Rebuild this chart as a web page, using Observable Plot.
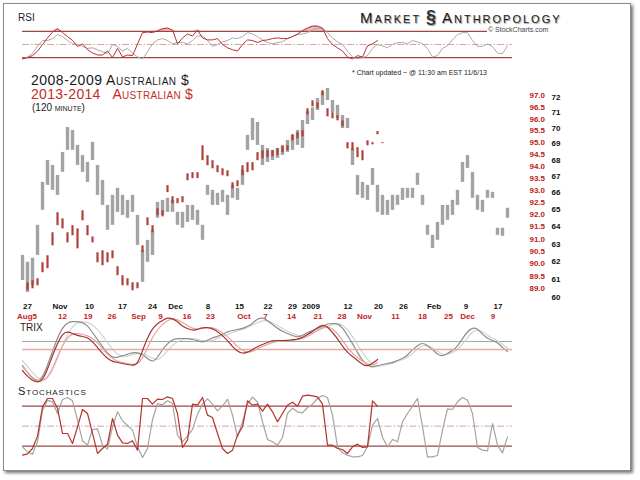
<!DOCTYPE html>
<html><head><meta charset="utf-8">
<script src="https://cdn.jsdelivr.net/npm/d3@7"></script>
<script src="https://cdn.jsdelivr.net/npm/@observablehq/plot@0.6"></script>
<style>
html,body{margin:0;padding:0;background:#fff;}
#wrap{position:relative;width:640px;height:480px;overflow:hidden;background:#fff;font-family:"Liberation Sans",Arial,sans-serif;}
#frame{position:absolute;left:3px;top:3px;width:626px;height:466px;border:1px solid #8a8a8a;box-shadow:2px 2px 3px rgba(0,0,0,0.55);background:#fff;}
.lbl{position:absolute;line-height:1;white-space:pre;}
.layer{position:absolute;left:0;}
</style></head>
<body><div id="wrap"><div id="frame"></div></div>
<script>
// ---------- data ----------
// bar index i (120-minute bars, sampled); 2008-2009 AUD (gray, right black axis)
const grayLow = [60.95,60.29,60.67,62.35,64.96,66.45,66.15,65.85,67.24,68.60,
68.60,67.66,67.24,66.63,67.97,65.85,65.25,63.79,64.08,64.84,
64.66,64.49,64.84,62.92,60.84,61.96,62.35,64.49,64.66,64.84,
64.84,64.08,63.91,64.25,64.37,64.08,63.21,65.85,65.25,65.25,
65.43,64.66,65.67,65.55,66.45,68.60,69.22,68.91,67.66,67.85,
67.97,68.10,68.28,68.47,68.60,68.91,68.72,70.23,70.49,71.13,
71.46,71.78,71.00,70.62,69.97,69.97,67.66,65.85,65.67,65.55,
66.45,64.84,64.66,64.66,64.96,65.25,65.55,65.67,65.67,66.45,
65.25,63.50,62.75,63.21,64.08,64.37,64.66,65.25,66.63,67.48,
65.67,64.96,64.84,65.67,65.67,63.50,63.44,64.49];
const grayHigh = [62.35,61.96,62.19,64.08,66.63,67.97,67.66,67.05,68.47,70.04,
69.85,68.91,68.28,67.85,69.10,67.66,66.75,65.25,65.85,66.27,
65.85,65.55,65.85,64.66,62.64,63.21,63.79,65.43,65.55,65.67,
65.55,64.84,64.84,65.25,65.25,64.96,64.08,66.45,66.15,65.97,
66.15,65.85,66.45,66.27,67.36,69.54,70.62,70.36,68.91,68.72,
68.60,68.72,68.91,69.22,69.54,69.85,70.49,71.04,71.30,71.91,
72.31,72.57,71.78,71.46,70.81,70.62,68.72,67.05,66.63,66.45,
67.48,66.45,65.85,65.55,65.85,65.85,66.27,66.27,66.27,67.18,
65.85,64.08,63.50,64.25,65.25,65.25,65.55,66.15,67.85,68.28,
67.24,65.85,65.55,66.15,66.03,63.91,63.91,65.08];
// 2013-2014 AUD (red, right red axis)
const redLow = [null,88.92,89.00,89.12,89.64,89.80,90.72,91.54,91.41,90.84,
91.13,90.60,91.74,91.13,90.84,90.04,89.92,90.04,90.20,89.52,
89.12,89.12,88.92,89.00,90.44,91.54,91.25,91.95,91.90,92.90,
92.44,92.44,92.48,93.39,93.48,93.48,94.23,94.02,93.89,93.73,
93.60,93.56,93.06,93.14,93.60,93.73,93.81,94.23,94.31,94.36,
94.40,94.44,94.57,94.65,95.07,95.16,95.24,96.18,96.52,96.44,
97.00,96.09,96.01,95.92,95.67,94.73,94.65,94.36,94.23,94.86,
94.90,95.33,94.95];
const redHigh = [null,89.24,89.32,89.40,90.04,90.32,91.25,92.07,91.82,91.25,
91.54,91.41,92.15,91.54,91.08,90.44,90.52,90.44,90.52,89.88,
89.52,89.40,89.24,89.24,90.72,91.86,91.54,92.23,92.15,93.19,
92.73,92.65,92.73,93.68,93.73,93.73,94.86,94.44,94.23,94.02,
93.89,93.81,93.31,93.39,94.02,94.15,94.15,94.57,94.65,94.65,
94.65,94.73,94.82,94.86,95.33,95.41,95.50,96.44,96.78,96.69,
97.22,96.44,96.27,96.14,95.92,94.99,94.99,94.78,94.65,95.07,
94.99,95.46,94.99];
const grayTicks = [60,61,62,63,64,65,66,67,68,69,70,71,72];
const redTicks = [89.0,89.5,90.0,90.5,91.0,91.5,92.0,92.5,93.0,93.5,94.0,94.5,95.0,95.5,96.0,96.5,97.0];

// RSI
const rsiGray = [28,31,36,48,56,56,59,65,62,56,51,50,47,44,45,42,39,36,50,47,
40,44,37,31,28,39,51,57,59,56,51,53,53,51,56,63,63,56,47,50,
54,56,60,59,62,68,66,62,57,53,51,53,54,59,62,65,66,68,72,75,
74,68,60,54,50,40,31,28,30,33,44,50,48,45,50,53,53,51,56,54,
51,44,31,33,44,48,57,65,68,68,56,47,47,51,47,37,36,48];
const rsiRed = [28,30,33,40,50,60,69,74,68,62,56,47,51,42,37,34,34,40,30,44,
31,34,33,51,68,69,68,71,74,75,72,51,60,66,63,72,60,57,57,59,
50,45,42,40,50,57,56,53,56,57,59,60,59,59,62,66,71,75,78,78,
75,59,50,45,40,31,28,33,31,48,51,56];
const rsiLevels = [30, 70];
const rsiMid = [50];

// TRIX (x100, each series around its own zero line)
const trixGray = [-24,-31,-37,-41,-36,-24,-10,4,14,19,20,20,19,16,9,2,-5,-12,-16,-16,
-14,-13,-11,-11,-13,-17,-21,-16,-8,-2,2,3,3,3,2,1,-1,1,4,5,
7,10,11,12,13,15,18,23,24,21,17,13,10,8,6,4,6,9,11,13,
15,18,18,18,14,6,-2,-11,-19,-24,-26,-24,-23,-22,-21,-19,-17,-14,-8,-4,
-1,-4,-8,-13,-15,-12,-9,-5,3,10,14,13,7,3,1,-1,-6,-10];
const trixGraySignal = [-19,-25,-31,-36,-39,-37,-29,-17,-4,7,15,19,20,19,17,12,6,-1,-8,-13,
-15,-15,-13,-12,-12,-14,-17,-19,-15,-9,-4,0,2,3,3,2,1,0,1,3,
5,7,9,11,12,14,16,19,21,21,19,16,13,10,8,6,5,7,9,11,
13,15,17,18,17,12,5,-3,-11,-18,-23,-25,-24,-23,-22,-20,-18,-16,-12,-7,
-4,-4,-6,-10,-13,-13,-11,-8,-3,4,10,12,10,6,3,1,-3,-7];
const trixRed = [-21,-27,-31,-33,-31,-20,-6,6,16,18,16,14,13,12,8,2,-4,-9,-12,-13,
-14,-15,-16,-15,-1,12,21,26,29,32,31,28,23,21,19,20,22,22,21,18,
14,9,3,-2,-4,-3,0,3,5,7,9,9,9,9,10,10,12,15,18,22,
25,23,17,11,3,-3,-7,-11,-15,-17,-14,-10];
const trixRedSignal = [-17,-23,-28,-31,-32,-28,-19,-7,4,12,16,16,15,14,11,7,1,-5,-9,-12,
-13,-14,-15,-15,-9,2,12,20,25,29,31,30,27,24,21,20,21,22,22,20,
17,13,8,3,-1,-3,-2,1,3,5,7,8,9,9,9,10,11,13,16,19,
22,23,21,16,9,2,-4,-8,-12,-15,-16,-13];

// Stochastics
const stochGray = [19,11.5,8,26.5,74,89,86,69,90,93,88,59,28,21.5,45,46,21.5,15.5,49,71.5,
58,51,44,19,3,16.5,60,84,82,88,84,36.5,26.5,35,45,68,83,91,83,73,
80,90.5,66.5,34,56.5,83,93.5,86.5,56.5,30,26.5,21.5,33,69,77,71.5,70,78,83,91.5,
96,93,66.5,19,10,6.5,4,4,6,19,51.5,61.5,33,19,30,26.5,56.5,69,80,91.5,
49,4,4,6,44,76,75,86.5,93,89,69,18,14,13,54,21.5,10,34];
const stochRed = [6.5,8.5,16.5,35,79,91.5,91.5,76.5,39,39,24,49,75,69,39,9,16.5,23,61.5,36.5,
25,24,28,14,91.5,91.5,83,90.5,90,94,91.5,69,18,29,83,81.5,93,66.5,63,39,
16.5,9,14,36.5,49,88,81.5,83,72.5,83,71.5,56.5,69,81.5,86,80,95,96.5,95.5,94,
83,21.5,21.5,16.5,15,9,19,23,18,19,88,80];
const stochLevels = [20, 80];
const stochMid = [50];

// date tick labels (bar index positions)
const blackTickPos = [1,7.5,13.4,20,26,30.6,37.1,43.4,49.1,54,57.7,65.1,71.2,76.2,82.3,88.7,95.1];
const blackTickLabels = ["27","Nov","10","17","24","Dec","8","15","22","29","2009","12","20","26","Feb","9","17"];
const redTickPos = [0.9,8,13.1,17.9,23.2,27.6,32.9,37.6,44.3,48.6,53.8,59.1,63.9,68.4,74.6,80,85.2,89,94.1];
const redTickLabels = ["Aug5","12","19","26","Sep","9","16","23","Oct","7","14","21","28","Nov","11","18","25","Dec","9"];

// ---------- build ----------
const wrap = document.getElementById("wrap");
const RED = "#b8322c", GUIDE = "#9c4744", GUIDE_MID = "#d6a3a0";
const X = {domain: [0, 98], axis: null};
const base = {width: 640, marginLeft: 22, marginRight: 128, marginTop: 0, marginBottom: 0,
  style: {background: "transparent", overflow: "visible", fontFamily: "Liberation Sans, Arial, sans-serif"}};

function place(svg, top) {
  svg.classList.add("layer");
  svg.style.top = top + "px";
  wrap.appendChild(svg);
}
function addLabel(text, left, top, css) {
  const d = document.createElement("div");
  d.className = "lbl";
  d.textContent = text;
  d.style.left = left + "px";
  d.style.top = top + "px";
  Object.assign(d.style, css || {});
  wrap.appendChild(d);
  return d;
}

const grayBars = grayLow.map((lo, i) => ({i, lo, hi: grayHigh[i]}));
const redBars = redLow.map((lo, i) => ({i, lo, hi: redHigh[i]})).filter(d => d.lo != null);
const series = (arr) => arr.map((v, i) => ({i, v}));

// RSI panel
place(Plot.plot({...base, height: 42.7, x: X, y: {domain: [20, 85], axis: null},
  marks: [
    Plot.areaY(series(rsiRed), {x: "i", y1: 70, y2: d => Math.max(d.v, 70), fill: "#ebb9b5"}),
    Plot.ruleY(rsiLevels, {stroke: GUIDE, strokeWidth: 1.2}),
    Plot.ruleY(rsiMid, {stroke: GUIDE_MID, strokeWidth: 1, strokeDasharray: "7,2,1.5,2"}),
    Plot.lineY(series(rsiGray), {x: "i", y: "v", stroke: "#a9a9a9", strokeWidth: 1}),
    Plot.lineY(series(rsiRed), {x: "i", y: "v", stroke: RED, strokeWidth: 1})
  ]}), 21.1);

// price panel: gray 2008-2009 (log scale)
place(Plot.plot({...base, height: 217.4, x: X, y: {type: "log", domain: [59.5, 72.5], axis: null},
  marks: [
    Plot.ruleX(grayBars, {x: "i", y1: "lo", y2: "hi", stroke: "#a3a3a3", strokeWidth: 3.4}),
    Plot.text(grayTicks, {y: d => d, text: d => String(d), frameAnchor: "right", dx: 39, textAnchor: "start",
      fontSize: 8, fontWeight: "bold", fill: "#111"})
  ]}), 89.1);

// price panel: red 2013-2014 (log scale)
place(Plot.plot({...base, height: 212.4, x: X, y: {type: "log", domain: [88.6, 97.4], axis: null},
  marks: [
    Plot.ruleX(redBars, {x: "i", y1: "lo", y2: "hi", stroke: "#b0403a", strokeWidth: 2.2}),
    Plot.text(redTicks, {y: d => d, text: d3.format(".1f"), frameAnchor: "right", dx: 17, textAnchor: "start",
      fontSize: 8, fontWeight: "bold", fill: "#c0201c"})
  ]}), 85.8);

// date labels
const blackT = blackTickPos.map((p, k) => ({p, t: blackTickLabels[k]}));
const redT = redTickPos.map((p, k) => ({p, t: redTickLabels[k]}));
place(Plot.plot({...base, height: 30, x: X, y: {axis: null},
  marks: [
    Plot.text(blackT, {x: "p", text: "t", frameAnchor: "top", dy: 10, fontSize: 8, fontWeight: "bold", fill: "#111"}),
    Plot.text(redT, {x: "p", text: "t", frameAnchor: "top", dy: 19.5, fontSize: 8, fontWeight: "bold", fill: "#c8201e"})
  ]}), 293);

// TRIX gray
place(Plot.plot({...base, height: 70, x: X, y: {domain: [-45, 25], axis: null},
  marks: [
    Plot.ruleY([0], {stroke: "#a8a8a8", strokeWidth: 1.2}),
    Plot.lineY(series(trixGraySignal), {x: "i", y: "v", stroke: "#d2d2d2", strokeWidth: 1.2, curve: "basis"}),
    Plot.lineY(series(trixGray), {x: "i", y: "v", stroke: "#8c8c8c", strokeWidth: 1.2, curve: "basis"})
  ]}), 316);
// TRIX red
place(Plot.plot({...base, height: 75, x: X, y: {domain: [-40, 35], axis: null},
  marks: [
    Plot.ruleY([0], {stroke: "#e3aaa6", strokeWidth: 1.5}),
    Plot.lineY(series(trixRedSignal), {x: "i", y: "v", stroke: "#e2a6a2", strokeWidth: 1.2, curve: "basis"}),
    Plot.lineY(series(trixRed), {x: "i", y: "v", stroke: "#a8342e", strokeWidth: 1.2, curve: "basis"})
  ]}), 314);

// Stochastics
place(Plot.plot({...base, height: 73.3, x: X, y: {domain: [-5, 105], axis: null},
  marks: [
    Plot.ruleY(stochLevels, {stroke: GUIDE, strokeWidth: 1.2}),
    Plot.ruleY(stochMid, {stroke: GUIDE_MID, strokeWidth: 1, strokeDasharray: "7,2,1.5,2"}),
    Plot.lineY(series(stochGray), {x: "i", y: "v", stroke: "#a3a3a3", strokeWidth: 1.2}),
    Plot.lineY(series(stochRed), {x: "i", y: "v", stroke: RED, strokeWidth: 1.2})
  ]}), 389.3);

// ---------- text ----------
addLabel("RSI", 18, 12.5, {fontSize: "10px", color: "#222"});
addLabel("TRIX", 20, 322.5, {fontSize: "10px", color: "#222"});
addLabel("Stochastics", 18, 385.5, {fontSize: "11px", fontVariant: "small-caps", letterSpacing: "0.9px", color: "#222"});
addLabel("2008-2009 Australian $", 31, 72.5, {fontSize: "14px", fontVariant: "small-caps", letterSpacing: "0.5px", color: "#1a1a1a"});
addLabel("2013-2014   Australian $", 31, 87, {fontSize: "14px", fontVariant: "small-caps", letterSpacing: "0.3px", color: "#c42d27"});
addLabel("(120 minute)", 32, 102.5, {fontSize: "10px", fontVariant: "small-caps", color: "#1a1a1a"});
const logoCss = {fontSize: "15px", fontVariant: "small-caps", letterSpacing: "2px", color: "#1a1a1a", textShadow: "1px 1px 1px #9a9a9a"};
addLabel("Market", 360, 10.3, logoCss);
addLabel("§", 426, 8, {fontSize: "18px", fontWeight: "bold", color: "#333", textShadow: "1px 1px 1px #9a9a9a"});
addLabel("Anthropology", 442, 10.3, logoCss);
addLabel("© StockCharts.com", 487, 26, {fontSize: "7px", color: "#444", background: "#fff", paddingLeft: "1px"});
addLabel("* Chart updated ~ @ 11:30 am EST 11/6/13", 352, 69, {fontSize: "7px", color: "#222"});
</script>
</body></html>
